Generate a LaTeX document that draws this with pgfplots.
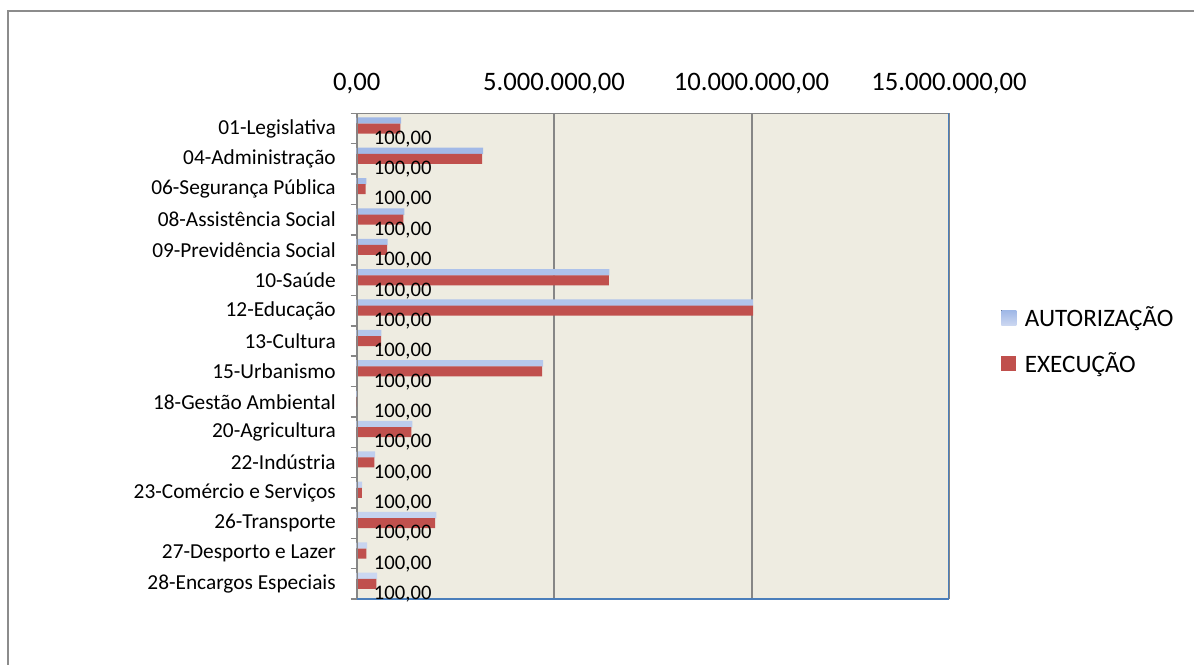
\documentclass[border=0pt]{standalone}
\usepackage{pgfplots}
\pgfplotsset{compat=1.18}
\usepackage{pgfplotstable}
\usepackage{fontspec}
\setmainfont{Carlito}
\definecolor{bg}{HTML}{EEECE1}
\definecolor{gridc}{HTML}{868686}
\definecolor{bordc}{HTML}{4A7EBB}
\definecolor{execc}{HTML}{C0504D}
\definecolor{autht}{HTML}{9FB7E6}
\definecolor{authb}{HTML}{CBD7F1}
\definecolor{framec}{HTML}{8C8C8C}

\pgfplotstableread{
y auth exec pct
15 1124000 1106000 100
14 3200000 3180000 100
13 246000 228000 100
12 1210000 1180000 100
11 785000 770000 100
10 6400000 6390000 100
9 10040000 10040000 100
8 625000 620000 100
7 4720000 4700000 100
6 20000 18000 100
5 1410000 1385000 100
4 466000 448000 100
3 137000 130000 100
2 2020000 1990000 100
1 263000 246000 100
0 516000 500000 100
}\data

\newcommand\pctlabel{100,00}

\begin{document}
\begin{tikzpicture}
\useasboundingbox (0,0) rectangle (895.5pt,-498pt);
\clip (0,0) rectangle (895.5pt,-498pt);
\draw[framec, line width=1.5pt] (6pt,-520pt) -- (6pt,-7.9pt) -- (920pt,-7.9pt);
\begin{axis}[
  at={(267.5pt,-85pt)}, anchor=north west,
  scale only axis, width=444.2pt, height=364.3pt,
  xbar, xmin=0, xmax=15000000, ymin=-0.5, ymax=15.5,
  axis background/.style={fill=bg},
  axis line style={draw=none},
  scaled x ticks=false,
  xtick={0,5000000,10000000,15000000},
  xticklabels={{0,00},{5.000.000,00},{10.000.000,00},{15.000.000,00}},
  xticklabel pos=upper,
  xticklabel style={font=\fontsize{20pt}{24pt}\selectfont, anchor=base, inner sep=0pt, yshift=17.5pt},
  ytick={0,...,15},
  yticklabels={28-Encargos Especiais,27-Desporto e Lazer,26-Transporte,23-Comércio e Serviços,22-Indústria,20-Agricultura,18-Gestão Ambiental,15-Urbanismo,13-Cultura,12-Educação,10-Saúde,09-Previdência Social,08-Assistência Social,06-Segurança Pública,04-Administração,01-Legislativa},
  yticklabel style={font=\fontsize{16pt}{19pt}\selectfont, inner sep=0pt, xshift=-15.5pt},
  minor ytick={-0.5,0.5,...,15.5},
  major tick length=0pt, minor tick length=4.5pt, tick align=outside,
  ytick pos=left,
  tick style={color=gridc, line width=1.1pt},
  xmajorgrids,
  major grid style={color=gridc, line width=1.5pt},
  /pgf/number format/assume math mode=true,
  legend image code/.code={\fill[#1] (0pt,-5.6pt) rectangle (11.25pt,5.6pt);},
  legend style={at={(1.088,0.608)}, anchor=north west, draw=none, fill=none,
    inner sep=0pt, row sep=14pt, column sep=4.5pt, font=\fontsize{18.8pt}{22pt}\selectfont},
  legend cell align=left,
]
\addplot[draw=none, top color=autht, bottom color=authb, bar width=4.8pt, bar shift=6pt] table[x=auth,y=y]{\data};
\addlegendentry{AUTORIZAÇÃO}
\addplot[draw=none, fill=execc, bar width=7.5pt, bar shift=0pt] table[x=exec,y=y]{\data};
\addlegendentry{EXECUÇÃO}
\addplot[draw=none, fill=none, bar width=7.5pt, bar shift=-7.75pt, forget plot,
  nodes near coords=\pctlabel,
  nodes near coords style={anchor=west, inner sep=0pt, xshift=12.75pt, font=\fontsize{15.5pt}{18pt}\selectfont, text=black}]
  table[x=pct,y=y]{\data};
\draw[gridc, line width=1.5pt] (rel axis cs:0,0) -- (rel axis cs:0,1) -- (rel axis cs:1,1);
\draw[bordc, line width=1.5pt] (rel axis cs:1,1) -- (rel axis cs:1,0) -- (rel axis cs:0,0);
\end{axis}
\end{tikzpicture}
\end{document}
